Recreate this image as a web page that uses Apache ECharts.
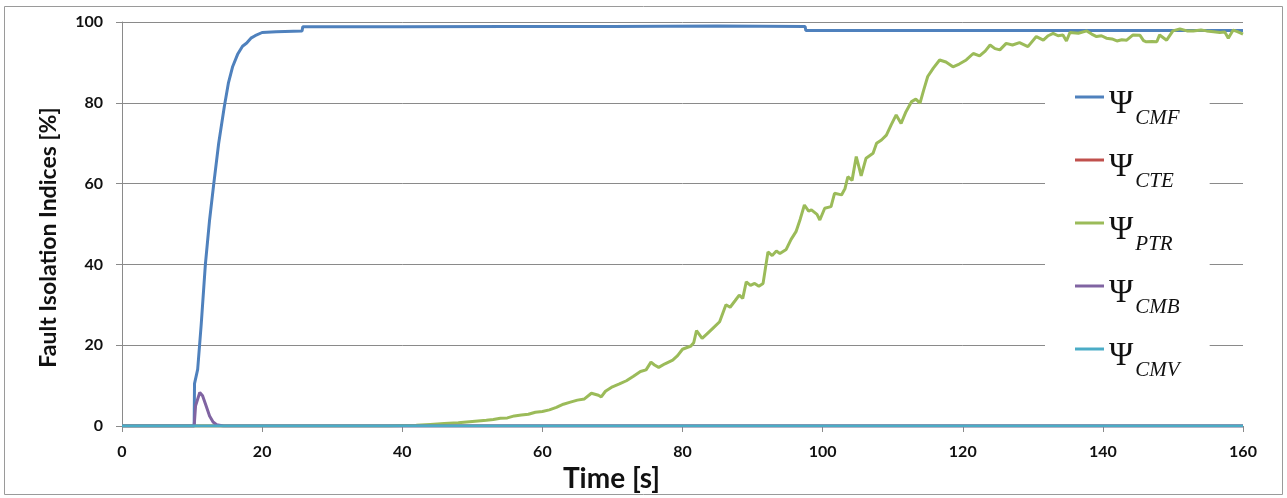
<!DOCTYPE html>
<html><head><meta charset="utf-8">
<script src="https://cdn.jsdelivr.net/npm/echarts@6/dist/echarts.min.js"></script>
<style>html,body{margin:0;padding:0;background:#fff}#c{width:1287px;height:498px}</style>
</head><body><div id="c"></div>
<script>
// ---- data ----
const seriesNames = ['CMF', 'CTE', 'PTR', 'CMB', 'CMV'];
const xTicks = [0, 20, 40, 60, 80, 100, 120, 140, 160];
const yTicks = [0, 20, 40, 60, 80, 100];

const cmf = [[0,0],[10.3,0],[10.35,10.5],[10.8,14],[11.3,25],[11.9,40],[12.5,51],[13.1,60],[13.8,70],[14.6,79],[15.2,85],[15.8,89],[16.5,92],[17.2,94],[17.8,94.8],[18.4,96],[19,96.6],[20,97.4],[22,97.6],[25.7,97.8],[25.8,98.8],[40,98.8],[55,98.9],[70,98.9],[85,99.0],[97.5,98.9],[97.6,97.9],[120,97.9],[140,97.9],[160,97.9]];
const cte = [[0,0],[160,0]];
const ptr = [[0,0],[38,0],[40,0.1],[42,0.2],[44,0.4],[46,0.6],[48,0.8],[50,1.1],[52,1.4],[53,1.6],[54,1.9],[55,2.0],[56,2.5],[57,2.7],[58,2.9],[59,3.4],[60,3.6],[61,4.0],[62,4.6],[63,5.4],[64,5.9],[65,6.4],[66,6.7],[67,8.1],[68,7.6],[68.4,7.2],[69,8.6],[70,9.7],[71,10.4],[72,11.2],[73,12.3],[74,13.5],[74.8,13.9],[75.5,15.8],[76,15.1],[76.6,14.5],[77.5,15.4],[78.6,16.3],[79.3,17.4],[80,19.0],[81.2,19.8],[81.6,20.6],[82,23.6],[82.8,21.7],[83.5,22.8],[84.4,24.3],[85.3,25.8],[86.2,30.0],[86.8,29.4],[87.5,31.0],[88.1,32.4],[88.6,31.6],[89.1,35.7],[89.7,34.8],[90.3,35.3],[90.9,34.6],[91.5,35.3],[92.2,43.1],[92.8,42.2],[93.4,43.3],[93.9,42.7],[94.8,43.7],[95.5,46.2],[96.2,48.1],[96.8,51.2],[97.4,54.7],[98.0,53.2],[98.4,53.5],[99.2,52.4],[99.6,51.0],[100.3,53.9],[101.2,54.3],[101.7,57.6],[102.7,57.2],[103.2,58.8],[103.6,61.7],[104.2,60.8],[104.8,66.7],[105.2,64.0],[105.5,61.9],[106.2,66.3],[107.2,67.5],[107.7,70.0],[108.4,70.8],[109.1,72.0],[109.8,74.6],[110.5,77.0],[111.2,74.9],[111.9,77.8],[112.7,80.3],[113.3,80.9],[113.9,79.9],[114.4,83.0],[115.0,86.5],[115.8,88.6],[116.7,90.6],[117.6,90.1],[118.6,88.9],[119.5,89.6],[120.5,90.6],[121.5,92.2],[122.4,91.6],[123.2,92.8],[123.9,94.3],[124.6,93.4],[125.3,93.1],[126.2,94.7],[127.1,94.3],[128.1,94.9],[129.3,93.9],[130.5,96.4],[131.5,95.5],[132.2,96.6],[132.9,97.2],[133.6,96.6],[134.3,96.8],[134.8,95.3],[135.3,97.4],[136.5,97.2],[137.7,97.8],[138.4,97.0],[139.1,96.4],[139.8,96.6],[140.5,96.0],[141.3,95.8],[142.0,95.3],[142.7,95.6],[143.4,95.5],[144.3,96.8],[145.3,96.7],[145.8,95.4],[146.2,95.1],[147.0,95.2],[147.7,95.1],[148.1,96.8],[149.1,95.5],[150.0,97.8],[151.0,98.3],[152.0,97.8],[152.9,97.8],[154.0,98.0],[154.8,97.8],[155.8,97.6],[156.7,97.4],[157.4,97.5],[157.9,96.0],[158.6,98.0],[159.2,97.6],[159.6,97.3],[160,97.0]];
const cmb = [[0,0],[10.3,0],[10.5,5],[11.1,8.3],[11.5,7.5],[12,5],[12.5,2.5],[13,1],[13.5,0.3],[14.5,0],[160,0]];
const cmv = [[0,0],[160,0]];

const seriesData = [cmf, cte, ptr, cmb, cmv];
const colors = ['#4F81BD', '#C0504D', '#9BBB59', '#8064A2', '#4BACC6'];

const chart = echarts.init(document.getElementById('c'), null, {renderer: 'canvas'});
const labelFont = 'Lato';
chart.setOption({
  animation: false,
  backgroundColor: '#fff',
  graphic: [{
    type: 'rect', shape: {x: 4.5, y: 6.5, width: 1278, height: 488},
    style: {fill: 'none', stroke: '#9a9a9a', lineWidth: 1}, z: -1
  }],
  grid: {left: 122, right: 44, top: 22, bottom: 72},
  xAxis: {
    type: 'value', min: 0, max: 160, interval: 20,
    axisLine: {show: true, lineStyle: {color: '#8a8a8a', width: 1}},
    axisTick: {show: true, length: 6, lineStyle: {color: '#8a8a8a'}},
    axisLabel: {margin: 18, fontFamily: labelFont, fontWeight: 'bold', fontSize: 16, color: '#111',
      formatter: v => xTicks.includes(v) ? String(v) : ''},
    splitLine: {show: false},
    name: 'Time [s]', nameLocation: 'middle', nameGap: 31,
    nameTextStyle: {fontFamily: labelFont, fontWeight: 'bold', fontSize: 28, color: '#111', padding: [0, 142, 0, 0]}
  },
  yAxis: {
    type: 'value', min: 0, max: 100, interval: 20,
    axisLine: {show: true, lineStyle: {color: '#8a8a8a', width: 1}},
    axisTick: {show: true, length: 6, lineStyle: {color: '#8a8a8a'}},
    axisLabel: {margin: 19, fontFamily: labelFont, fontWeight: 'bold', fontSize: 16, color: '#111',
      formatter: v => yTicks.includes(v) ? String(v) : ''},
    splitLine: {show: true, lineStyle: {color: '#8a8a8a', width: 1}},
    name: 'Fault Isolation Indices [%]', nameLocation: 'middle', nameGap: 62, nameRotate: 90,
    nameTextStyle: {fontFamily: labelFont, fontWeight: 'bold', fontSize: 23, color: '#111', padding: [0, 27, 0, 0]}
  },
  legend: {
    orient: 'vertical', left: 1045, top: 70,
    backgroundColor: '#fff',
    padding: [10, 30, 10, 30],
    itemGap: 14, itemWidth: 29, itemHeight: 3, icon: 'rect',
    data: seriesNames,
    formatter: n => '{psi|Ψ}{sub|' + n + '}',
    textStyle: {
      color: '#111',
      rich: {
        psi: {fontFamily: 'Liberation Serif', fontSize: 33, lineHeight: 34, verticalAlign: 'top', padding: [8, 0, 0, 0], color: '#111'},
        sub: {fontFamily: 'Liberation Serif', fontStyle: 'italic', fontSize: 21, lineHeight: 22, verticalAlign: 'top', padding: [28, 0, 0, 2], color: '#111'}
      }
    }
  },
  series: seriesNames.map((n, i) => ({
    name: n, type: 'line', data: seriesData[i], showSymbol: false, symbol: 'none',
    lineStyle: {color: colors[i], width: 3}, itemStyle: {color: colors[i]},
    z: 2 + i
  }))
});
</script></body></html>
